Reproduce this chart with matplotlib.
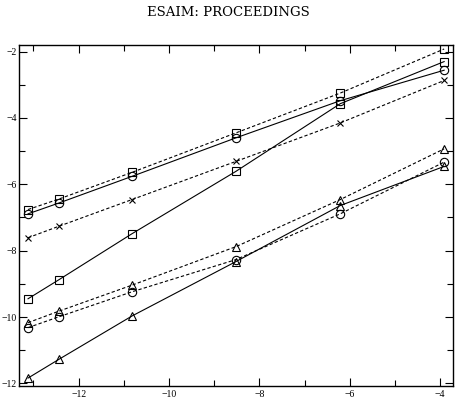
import numpy as np
import matplotlib.pyplot as plt
from matplotlib.ticker import MultipleLocator

# log of step sizes
x = [-13.12, -12.43, -10.82, -8.52, -6.21, -3.91]

sq_dash = [-6.76, -6.44, -5.64, -4.45, -3.25, -1.92]
circ_solid = [-6.89, -6.56, -5.76, -4.60, -3.48, -2.56]
sq_solid = [-9.45, -8.87, -7.49, -5.61, -3.57, -2.30]
x_dash = [-7.61, -7.26, -6.46, -5.31, -4.15, -2.87]
tri_dash = [-10.17, -9.82, -9.04, -7.88, -6.46, -4.93]
circ_dash = [-10.32, -9.99, -9.24, -8.27, -6.89, -5.33]
tri_solid = [-11.84, -11.27, -9.97, -8.33, -6.64, -5.46]

series = [
    (sq_dash, 's', '--'),
    (circ_solid, 'o', '-'),
    (sq_solid, 's', '-'),
    (x_dash, 'x', '--'),
    (tri_dash, '^', '--'),
    (circ_dash, 'o', '--'),
    (tri_solid, '^', '-'),
]

plt.rcParams['font.family'] = ['Liberation Serif', 'DejaVu Serif']

fig = plt.figure(figsize=(4.56, 4.08), dpi=100)
ax = fig.add_axes([0.0417, 0.0539, 0.9511, 0.8358])

for y, m, ls in series:
    line, = ax.plot(x, y, color='black', linestyle=ls, linewidth=0.8,
                    marker=m, markersize=6 if m != 'x' else 4.5,
                    markerfacecolor='none', markeredgecolor='black',
                    markeredgewidth=0.8)
    if ls == '--':
        line.set_dashes((3, 2))

ax.set_xlim(-13.32, -3.72)
ax.set_ylim(-12.08, -1.8)
ax.xaxis.set_major_locator(MultipleLocator(2))
ax.xaxis.set_minor_locator(MultipleLocator(1))
ax.yaxis.set_major_locator(MultipleLocator(2))
ax.yaxis.set_minor_locator(MultipleLocator(1))
ax.tick_params(which='both', direction='in', top=True, right=True,
               labelsize=7, width=0.8)
ax.tick_params(axis='y', pad=1.5)
ax.tick_params(axis='x', pad=3)
ax.tick_params(which='major', length=6)
ax.tick_params(which='minor', length=4)
for s in ax.spines.values():
    s.set_linewidth(1.0)

fig.text(0.5, 0.97, 'ESAIM: PROCEEDINGS', ha='center', va='center',
         fontsize=9.5, family='DejaVu Serif')

fig.savefig('out.png', dpi=100)
